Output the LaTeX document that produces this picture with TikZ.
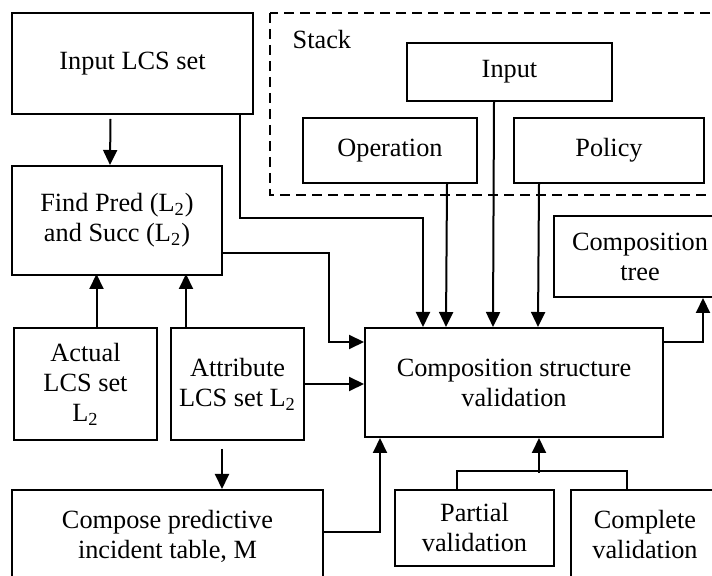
\documentclass[tikz,border=0pt]{standalone}
\usepackage{fontspec}
\setmainfont{Liberation Serif}
\usetikzlibrary{arrows.meta, positioning}

\begin{document}
\begin{tikzpicture}[x=0.5pt, y=-0.5pt, line width=1pt,
        box/.style = {draw, align=center, inner sep=1pt, font=\fontsize{13.15}{15}\selectfont},
        arr/.style = {-{Triangle[length=7.5pt, width=7pt]}}]
            \useasboundingbox (0,0) rectangle (712,576);
            \clip (0,0) rectangle (712,576);

            \draw[dashed, dash pattern=on 5pt off 3pt] (270,13) rectangle (740,195);
            \node[font=\fontsize{13.15}{15}\selectfont, anchor=west] (stack) at (285,40) {Stack};

            \node[box, minimum width=120.5pt, minimum height=50.5pt] (inlcs) at (132.5,63.5) {Input LCS set};
            \node[box, minimum width=102.5pt, minimum height=29pt] (stin) at (509.5,72) {Input};
            \node[box, minimum width=87pt, minimum height=32.5pt] (oper) at (390,150.5) {Operation};
            \node[box, minimum width=95pt, minimum height=32.5pt] (policy) at (609,150.5) {Policy};
            \node[box, minimum width=105pt, minimum height=54.5pt] (pred) at (117,220.5) {Find Pred (L\textsubscript{2})\\and Succ (L\textsubscript{2})};
            \node[box, minimum width=86pt, minimum height=40.5pt] (tree) at (640,256.5) {Composition\\tree};
            \node[box, minimum width=149pt, minimum height=54.5pt] (comp) at (514,382.5) {Composition structure\\validation};
            \node[box, minimum width=71.5pt, minimum height=56pt] (actual) at (85.5,384) {Actual\\LCS set\\L\textsubscript{2}};
            \node[box, minimum width=66.5pt, minimum height=56pt, right=6pt of actual] (attr) {Attribute\\LCS set L\textsubscript{2}};
            \node[box, minimum width=155.5pt, minimum height=46pt] (compose) at (167.5,536) {Compose predictive\\incident table, M};
            \node[box, minimum width=79.5pt, minimum height=38pt] (partial) at (474.5,528) {Partial\\validation};
            \node[box, minimum width=74pt, minimum height=45pt] (complete) at (645,535) {Complete\\validation};

            \draw[arr] ([xshift=-3.5pt]inlcs.south) ++(-15,4) -- ([xshift=-3.5pt]pred.north);
            \draw[arr] ([xshift=-7pt]inlcs.south east) -- ++(0,103) -| ([xshift=29.5pt]comp.north west);
            \draw[arr] ([xshift=28.5pt]oper.south) -- ([xshift=41pt]comp.north west);
            \draw[arr] ([xshift=-7.75pt]stin.south) -- ([xshift=64.5pt]comp.north west);
            \draw[arr] ([xshift=-35pt]policy.south) -- ([xshift=87pt]comp.north west);
            \draw[arr] ([yshift=-16.25pt]pred.east) -- ++(106,0) |- ([yshift=-7.5pt]comp.north west);
            \draw[arr] (attr.east) -- (attr.east -| comp.west);
            \draw[arr] ([xshift=5.5pt]actual.north) -- ++(0,-53);
            \draw[arr] ([xshift=-25.75pt]attr.north) -- ++(0,-53);
            \draw[arr, shorten <=4pt] ([xshift=-7.75pt]attr.south) -- ([xshift=27.25pt]compose.north);
            \draw[arr] ([yshift=2pt]compose.east) -| ([xshift=8pt]comp.south west);
            \draw ([xshift=-8.75pt]partial.north) -- ++(0,-18) -| ([xshift=-9pt]complete.north);
            \draw[arr] ([xshift=12.5pt]comp.south) ++(0,35) -- ([xshift=12.5pt]comp.south);
            \draw[arr] ([yshift=-7.5pt]comp.north east) -| ([xshift=31.5pt]tree.south);
        \end{tikzpicture}
\end{document}
